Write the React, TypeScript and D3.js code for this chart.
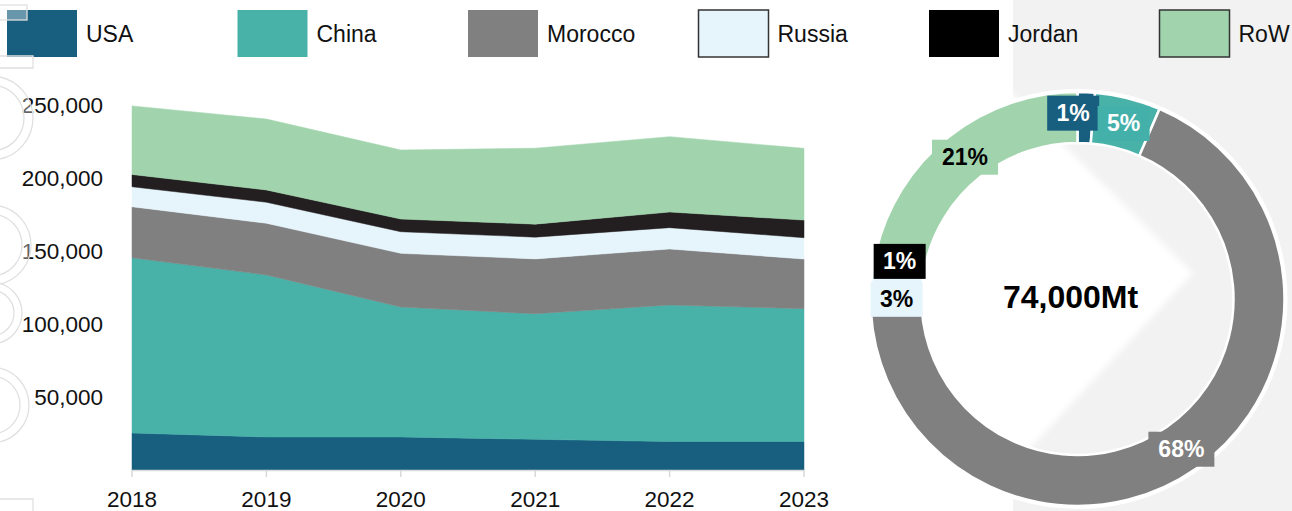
import * as d3 from 'd3';
import React from 'react';

// phosphate rock mine production (t x 1000) per year
const years = [2018, 2019, 2020, 2021, 2022, 2023];
const countries = ['USA', 'China', 'Morocco', 'Russia', 'Jordan', 'RoW'];
const usaOutput = [25300, 22600, 22600, 21000, 19500, 19500];
const chinaOutput = [120000, 111000, 89000, 86000, 93500, 91000];
const moroccoOutput = [35000, 35400, 36800, 37600, 38400, 34000];
const russiaOutput = [13700, 14400, 14800, 14900, 14600, 14600];
const jordanOutput = [8400, 8400, 8700, 8900, 10700, 12100];
const rowOutput = [47000, 48600, 47300, 52000, 51600, 49100];
const yTicks = [50000, 100000, 150000, 200000, 250000];

// reserves donut
const reserves = [1000, 3800, 50000, 2400, 1000, 15800];
const reserveShares = ['1%', '5%', '68%', '3%', '1%', '21%'];
const totalReserves = '74,000Mt';

const areaColors = ['#175e7f', '#48b2a9', '#808080', '#e6f5fc', '#231f20', '#a1d4ad'];
const legendColors = ['#175e7f', '#48b2a9', '#808080', '#e6f5fc', '#000000', '#a1d4ad'];
const labelBg = ['#175e7f', '#43b0aa', '#808080', '#e6f5fc', '#000000', '#a1d4ad'];
const labelText = ['#fff', '#fff', '#fff', '#000', '#fff', '#000'];
const labelNudgeX = [-12, 2, 0, 0, 0, 0];
const labelNudgeY = [-5, 0, 2, 8, -4, 0];

const W = 1292;
const H = 511;
const font = '"Liberation Sans", Arial, sans-serif';

export default function App() {
  const seriesData = [usaOutput, chinaOutput, moroccoOutput, russiaOutput, jordanOutput, rowOutput];
  const table = years.map((yr, i) => {
    const row: Record<string, number> = { year: yr };
    countries.forEach((c, k) => (row[c] = seriesData[k][i]));
    return row;
  });
  const stacked = d3.stack<Record<string, number>>().keys(countries)(table);

  const xScale = d3.scaleLinear().domain([2018, 2023]).range([132, 804]);
  const yScale = d3.scaleLinear().domain([0, 250000]).range([470, 105]);

  const area = d3
    .area<d3.SeriesPoint<Record<string, number>>>()
    .x((d) => xScale(d.data.year))
    .y0((d) => yScale(d[0]))
    .y1((d) => yScale(d[1]));

  const fmt = d3.format(',');

  // donut
  const cx = 1077.5;
  const cy = 299;
  const pie = d3.pie<number>().sort(null).value((d) => d)(reserves);
  const arc = d3.arc<d3.PieArcDatum<number>>().innerRadius(156).outerRadius(207);
  const labelArc = d3.arc<d3.PieArcDatum<number>>().innerRadius(181).outerRadius(181);

  const ring = (r0: number, r1: number) =>
    d3.arc()({ innerRadius: r0, outerRadius: r1, startAngle: 0.15, endAngle: Math.PI - 0.15 }) as string;

  return (
    <svg
      width={W}
      height={H}
      style={{ position: 'absolute', left: 0, top: 0, background: '#fff', fontFamily: font }}>
      <defs>
        <filter id='soft' x='-10%' y='-10%' width='120%' height='120%'>
          <feGaussianBlur stdDeviation='3' />
        </filter>
      </defs>
      {/* background panel */}
      <rect x={1013} y={0} width={W - 1013} height={H} fill='#f2f2f2' />
      <polygon points='1005,87 1193,273 1005,475' fill='#ffffff' filter='url(#soft)' />

      {/* stacked area */}
      <g>
        {stacked.map((s, i) => (
          <path key={s.key} d={area(s) ?? ''} fill={areaColors[i]} stroke={areaColors[i]} strokeWidth={0.5} />
        ))}
      </g>
      <line x1={132} x2={804} y1={470.5} y2={470.5} stroke='#d9d9d9' strokeWidth={1.5} />
      {years.map((yr) => (
        <g key={yr}>
          <line x1={xScale(yr)} x2={xScale(yr)} y1={470} y2={477} stroke='#d9d9d9' strokeWidth={1.5} />
          <text x={xScale(yr)} y={507} textAnchor='middle' fontSize={22.5} fill='#111'>
            {yr}
          </text>
        </g>
      ))}
      {yTicks.map((v) => (
        <text key={v} x={103} y={yScale(v) + 8} textAnchor='end' fontSize={22.5} fill='#111'>
          {fmt(v)}
        </text>
      ))}

      {/* donut */}
      <g transform={`translate(${cx},${cy})`}>
        <circle r={208.5} fill='none' stroke='#fff' strokeWidth={3} />
        {pie.map((p, i) => (
          <path key={i} d={arc(p) ?? ''} fill={legendColors[i]} stroke='#fff' strokeWidth={2.5} />
        ))}
        {pie.map((p, i) => {
          const [lx, ly] = labelArc.centroid(p);
          const t = reserveShares[i];
          const bw = 24 + t.length * 14;
          const x = lx + labelNudgeX[i];
          const y = ly + labelNudgeY[i];
          return (
            <g key={'l' + i}>
              <rect x={x - bw / 2} y={y - 17.5} width={bw} height={35} fill={labelBg[i]} />
              <text x={x} y={y + 8} textAnchor='middle' fontSize={23} fontWeight='bold' fill={labelText[i]}>
                {t}
              </text>
            </g>
          );
        })}
        <text x={-7} y={9} textAnchor='middle' fontSize={32} fontWeight='bold' fill='#000'>
          {totalReserves}
        </text>
      </g>

      {/* legend */}
      {countries.map((c, i) => {
        const x0 = 7 + i * 230.5;
        const outlined = c === 'Russia' || c === 'RoW';
        return (
          <g key={c}>
            <rect
              x={x0}
              y={10}
              width={70}
              height={47}
              fill={legendColors[i]}
              stroke={outlined ? '#333' : 'none'}
              strokeWidth={1.5}
            />
            <text x={x0 + 79} y={42} fontSize={23} fill='#111'>
              {c}
            </text>
          </g>
        );
      })}

      {/* faint watermark on the left edge */}
      <g fill='#ffffff' fillOpacity={0.35} stroke='#e0e0e0' strokeWidth={1.3}>
        <rect x={-10} y={5} width={37} height={15} />
        <path d='M-10,56 H33 V68 H-10' fill='none' />
        <path transform='translate(-9,118)' d={ring(33, 42)} />
        <path transform='translate(-9,245)' d={ring(31, 40)} />
        <path transform='translate(-9,313)' d={ring(23, 31)} />
        <path transform='translate(-9,405)' d={ring(29, 38)} />
        <path d='M-10,499 H33 V530' fill='none' />
      </g>
    </svg>
  );
}
